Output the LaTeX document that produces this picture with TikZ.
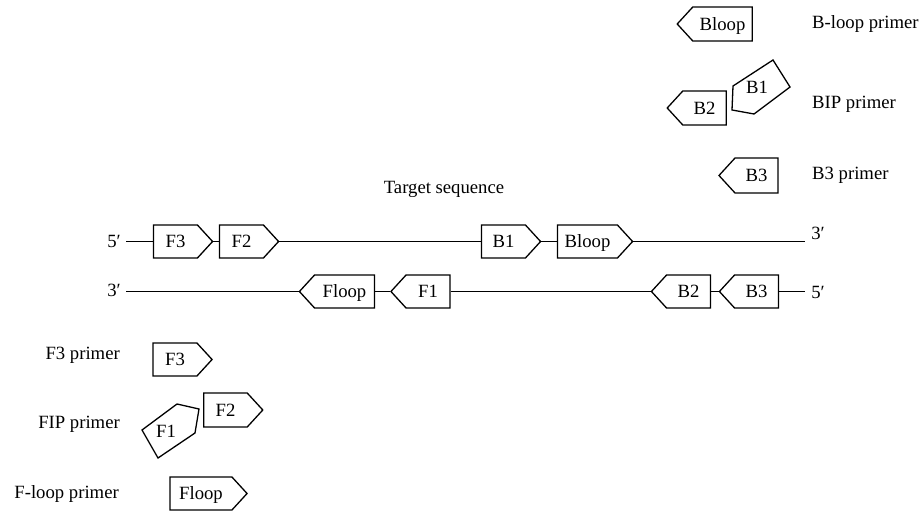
\documentclass[tikz,border=0pt]{standalone}
\usepackage{fontspec}
\setmainfont{Liberation Serif}
\usetikzlibrary{shapes.symbols}

\begin{document}
\begin{tikzpicture}[x=1pt,y=-1pt,
  every node/.style={font=\fontsize{18.7}{22}\selectfont, inner sep=0pt,
    text height=12.3pt, text depth=0pt},
  seg/.style={draw, line width=1.3pt, line join=miter, signal,
    signal pointer angle=95, minimum height=33pt, minimum width=59pt},
  longseg/.style={minimum width=75pt},
  fwd/.style={seg, signal to=east},
  rev/.style={seg, signal to=west},
  strand/.style={line width=1.3pt},
  tilted/.style={draw, line width=1.3pt, line join=miter},
]
\useasboundingbox (0,0) rectangle (923,513);

% ---- target sequence, upper strand (5' -> 3') ----
\node (title) at (444,187) {Target sequence};
\node (u5) at (114,241) {5′};
\node (u3) at (818,233) {3′};
\coordinate (uL) at (126,241.5);
\coordinate (uR) at (805,241.5);
\node[fwd] (uF3) at (175.5,241.5) {F3};
\node[fwd] (uF2) at (241.5,241.5) {F2};
\node[fwd] (uB1) at (503.5,241.5) {B1};
\node[fwd, longseg] (uBloop) at (587.5,241.5) {Bloop};
\draw[strand] (uL) -- (uF3.west);
\draw[strand] (uF3.east) -- (uF2.west);
\draw[strand] (uF2.east) -- (uB1.west);
\draw[strand] (uB1.east) -- (uBloop.west);
\draw[strand] (uBloop.east) -- (uR);

% ---- lower strand (3' -> 5') ----
\node (l3) at (114,290) {3′};
\node (l5) at (818,292) {5′};
\coordinate (lL) at (126,291.5);
\coordinate (lR) at (805,291.5);
\node[rev, longseg] (lFloop) at (344.5,291.5) {Floop};
\node[rev] (lF1) at (428,291.5) {F1};
\node[rev] (lB2) at (688.5,291.5) {B2};
\node[rev] (lB3) at (756.5,291.5) {B3};
\draw[strand] (lL) -- (lFloop.west);
\draw[strand] (lFloop.east) -- (lF1.west);
\draw[strand] (lF1.east) -- (lB2.west);
\draw[strand] (lB2.east) -- (lB3.west);
\draw[strand] (lB3.east) -- (lR);

% ---- backward primers ----
\node[rev, longseg, minimum height=34pt] (pBloop) at (722.5,24) {Bloop};
\node[anchor=west] (tBloop) at (812,22) {B-loop primer};

\node[rev, minimum height=34pt] (pB2) at (704.5,108) {B2};
\draw[tilted] (733,86) -- (773,60) -- (790,87) -- (754,114) -- (732,110) -- cycle;
\node (pB1) at (757,87.5) {B1};
\node[anchor=west] (tBIP) at (812,102) {BIP primer};

\node[rev, minimum height=35pt] (pB3) at (756.5,175.5) {B3};
\node[anchor=west] (tB3) at (812,173) {B3 primer};

% ---- forward primers ----
\node[fwd] (pF3) at (175,359.5) {F3};
\node[anchor=east] (tF3) at (120,353) {F3 primer};

\node[fwd, minimum height=34pt] (pF2) at (225.5,410) {F2};
\draw[tilted] (142,430) -- (177,404) -- (199,409) -- (195,433) -- (158,458) -- cycle;
\node (pF1) at (166,431) {F1};
\node[anchor=east] (tFIP) at (120,422) {FIP primer};

\node[fwd, minimum width=77pt] (pFloop) at (201,493.5) {Floop};
\node[anchor=east] (tFloop) at (119,492) {F-loop primer};
\end{tikzpicture}
\end{document}
